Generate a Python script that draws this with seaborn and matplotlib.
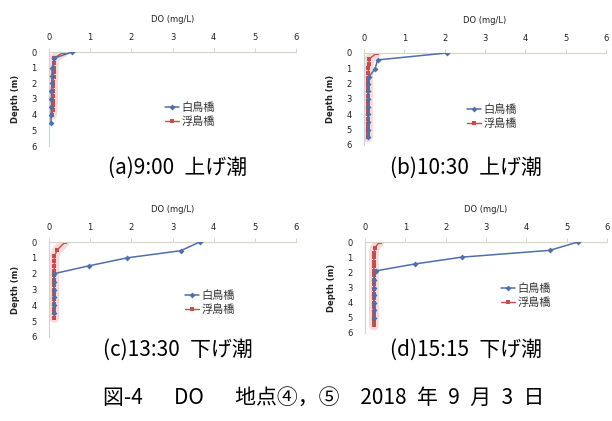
import matplotlib
matplotlib.use("Agg")
import matplotlib.pyplot as plt
import seaborn as sns
import pandas as pd

# ---------------- data ----------------
series_names = ["白鳥橋", "浮島橋"]
x_ticks = [0, 1, 2, 3, 4, 5, 6]
y_ticks = [0, 1, 2, 3, 4, 5, 6]
x_label = "DO (mg/L)"
y_label = "Depth (m)"

# (a) 9:00
a_blue_depth = [0.0, 0.4, 1.0, 1.5, 2.0, 2.5, 3.0, 3.5, 4.0, 4.5]
a_blue_do = [0.56, 0.12, 0.08, 0.07, 0.07, 0.06, 0.06, 0.06, 0.05, 0.05]
a_red_depth = [0.0, 0.4, 0.7, 1.0, 1.3, 1.6, 1.9, 2.2, 2.5, 2.8, 3.1, 3.4, 3.7, 4.0]
a_red_do = [0.36, 0.12, 0.12, 0.11, 0.11, 0.11, 0.10, 0.10, 0.10, 0.10, 0.10, 0.09, 0.09, 0.08]

# (b) 10:30
b_blue_depth = [0.0, 0.45, 1.05, 1.55, 2.0, 2.5, 3.0, 3.5, 4.0, 4.5, 5.0, 5.5]
b_blue_do = [2.05, 0.34, 0.27, 0.12, 0.10, 0.10, 0.10, 0.10, 0.10, 0.10, 0.10, 0.10]
b_red_depth = [0.0, 0.4, 0.7, 1.0, 1.3, 1.6, 1.9, 2.2, 2.5, 2.8, 3.1, 3.4, 3.7, 4.0, 4.3, 4.6, 4.9, 5.2, 5.5]
b_red_do = [0.31, 0.13, 0.12, 0.11, 0.11, 0.10, 0.10, 0.10, 0.10, 0.10, 0.10, 0.10, 0.10, 0.10, 0.10, 0.10, 0.10, 0.10, 0.10]

# (c) 13:30
c_blue_depth = [0.0, 0.55, 1.0, 1.5, 2.0, 2.5, 3.0, 3.5, 4.0, 4.5]
c_blue_do = [3.66, 3.20, 1.90, 0.98, 0.12, 0.12, 0.12, 0.12, 0.12, 0.12]
c_red_depth = [0.0, 0.5, 0.9, 1.2, 1.5, 1.8, 2.1, 2.4, 2.7, 3.0, 3.3, 3.6, 3.9, 4.2, 4.5, 4.8]
c_red_do = [0.39, 0.20, 0.13, 0.13, 0.13, 0.13, 0.13, 0.13, 0.13, 0.13, 0.13, 0.13, 0.13, 0.13, 0.13, 0.13]

# (d) 15:15
d_blue_depth = [0.0, 0.55, 1.0, 1.45, 1.9, 2.5, 3.0, 3.5, 4.0, 4.5, 5.0]
d_blue_do = [5.28, 4.58, 2.40, 1.23, 0.28, 0.22, 0.22, 0.22, 0.22, 0.22, 0.22]
d_red_depth = [0.0, 0.4, 0.7, 1.0, 1.3, 1.6, 1.9, 2.2, 2.5, 2.8, 3.1, 3.4, 3.7, 4.0, 4.3, 4.6, 4.9, 5.2, 5.5]
d_red_do = [0.36, 0.24, 0.23, 0.22, 0.22, 0.22, 0.22, 0.22, 0.22, 0.22, 0.22, 0.22, 0.22, 0.22, 0.22, 0.22, 0.22, 0.22, 0.22]

captions = ["(a)9:00\u2002上げ潮", "(b)10:30\u2002上げ潮", "(c)13:30\u2002下げ潮", "(d)15:15\u2002下げ潮"]
fig_caption = "図-4　\u2002DO　\u2002地点④，⑤　2018\u2002年\u20029\u2002月\u20023\u2002日"

# ---------------- style ----------------
sns.set_theme(style="white")
plt.rcParams["font.family"] = ["Noto Sans CJK JP", "DejaVu Sans"]

W, H = 612, 421
fig = plt.figure(figsize=(W / 100, H / 100), dpi=100)

BLUE = "#4f6fa8"
RED = "#c0504d"
GLOW = "#f4b4b4"

panels = [
    # (left px, top px, right px, bottom px), data, legend anchor px, caption pos px
    ((49, 52, 296, 146), (a_blue_do, a_blue_depth, a_red_do, a_red_depth), (165, 102), (178, 168)),
    ((364, 53, 606, 145), (b_blue_do, b_blue_depth, b_red_do, b_red_depth), (467, 104), (466, 168)),
    ((49, 242, 296, 337), (c_blue_do, c_blue_depth, c_red_do, c_red_depth), (185, 290), (178, 350)),
    ((365, 242, 607, 333), (d_blue_do, d_blue_depth, d_red_do, d_red_depth), (501, 283), (466, 350)),
]

for i, (box, data, leg, cap) in enumerate(panels):
    l, t, r, b = box
    ax = fig.add_axes([l / W, 1 - b / H, (r - l) / W, (b - t) / H])
    bdo, bdep, rdo, rdep = data
    dfb = pd.DataFrame({"DO": bdo, "Depth": bdep})
    dfr = pd.DataFrame({"DO": rdo, "Depth": rdep})
    # soft halo around the red series
    sns.lineplot(data=dfr, x="DO", y="Depth", sort=False, estimator=None, orient="y",
                 color=GLOW, lw=7, alpha=0.5, ax=ax, zorder=1)
    sns.lineplot(data=dfb, x="DO", y="Depth", sort=False, estimator=None, orient="y",
                 color=BLUE, lw=1.1, marker="D", markersize=3, markeredgewidth=0,
                 ax=ax, label=series_names[0], zorder=3)
    sns.lineplot(data=dfr, x="DO", y="Depth", sort=False, estimator=None, orient="y",
                 color=RED, lw=1.0, marker="s", markersize=2.8, markeredgewidth=0,
                 ax=ax, label=series_names[1], zorder=2)

    ax.set_xlim(0, 6)
    ax.set_ylim(6, 0)
    ax.set_xticks(x_ticks)
    ax.set_yticks(y_ticks)
    ax.xaxis.tick_top()
    ax.xaxis.set_label_position("top")
    ax.set_xlabel(x_label, fontsize=6, family=["DejaVu Sans"], color="#222222")
    ax.xaxis.set_label_coords(0.5, 1 + 30 / (b - t))
    ax.set_ylabel(y_label, fontsize=6, family=["DejaVu Sans"], fontweight="bold", color="#222222")
    ax.yaxis.set_label_coords(-29 / (r - l), 0.5)
    ax.tick_params(axis="x", top=True, bottom=False, length=3, width=0.6, color="#cfcfcf",
                   pad=4, labelsize=6, labelcolor="#222222")
    ax.tick_params(axis="y", left=False, length=0, pad=9, labelsize=6, labelcolor="#222222")
    for lab in ax.get_xticklabels() + ax.get_yticklabels():
        lab.set_family(["DejaVu Sans"])
    for s in ["right", "bottom"]:
        ax.spines[s].set_visible(False)
    ax.spines["top"].set_color("#d8d4c4")
    ax.spines["top"].set_linewidth(0.8)
    ax.spines["left"].set_color("#c9d4de")
    ax.spines["left"].set_linewidth(0.8)
    ax.patch.set_alpha(0)
    ax.grid(False)

    lg = ax.legend(loc="upper left", bbox_to_anchor=(leg[0] / W, 1 - leg[1] / H),
                   bbox_transform=fig.transFigure, frameon=False, fontsize=8,
                   handlelength=1.3, handletextpad=0.2, labelspacing=0.35,
                   borderpad=0, borderaxespad=0)
    for txt in lg.get_texts():
        txt.set_color("#333333")

    fig.text(cap[0] / W, 1 - cap[1] / H, captions[i], ha="center", va="center",
             fontsize=15, color="black", family=["Noto Sans CJK JP", "DejaVu Sans"])

fig.text(324 / W, 1 - 398 / H, fig_caption, ha="center", va="center", fontsize=15,
         color="black", family=["Noto Sans CJK JP", "DejaVu Sans"])

fig.savefig("out.png", dpi=100)
